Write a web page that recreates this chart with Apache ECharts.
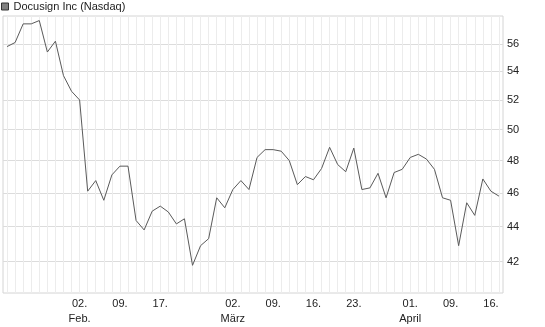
<!DOCTYPE html>
<html>
<head>
<meta charset="utf-8">
<script src="https://cdn.jsdelivr.net/npm/echarts@6/dist/echarts.min.js"></script>
<style>
html,body{margin:0;padding:0;background:#fff;}
#chart{width:545px;height:327px;}
</style>
</head>
<body>
<div id="chart"></div>
<script>
const seriesName = 'Docusign Inc (Nasdaq)';
const categories = [
  '2026-01-20','2026-01-21','2026-01-22','2026-01-23','2026-01-26','2026-01-27','2026-01-28','2026-01-29','2026-01-30',
  '2026-02-02','2026-02-03','2026-02-04','2026-02-05','2026-02-06','2026-02-09','2026-02-10','2026-02-11','2026-02-12','2026-02-13',
  '2026-02-17','2026-02-18','2026-02-19','2026-02-20','2026-02-23','2026-02-24','2026-02-25','2026-02-26','2026-02-27',
  '2026-03-02','2026-03-03','2026-03-04','2026-03-05','2026-03-06','2026-03-09','2026-03-10','2026-03-11','2026-03-12','2026-03-13',
  '2026-03-16','2026-03-17','2026-03-18','2026-03-19','2026-03-20','2026-03-23','2026-03-24','2026-03-25','2026-03-26','2026-03-27',
  '2026-03-30','2026-03-31',
  '2026-04-01','2026-04-02','2026-04-06','2026-04-07','2026-04-08','2026-04-09','2026-04-10','2026-04-13','2026-04-14','2026-04-15',
  '2026-04-16','2026-04-17'
];
const prices = [
  55.8, 56.1, 57.5, 57.5, 57.75, 55.4, 56.2, 53.7, 52.6,
  52.0, 46.1, 46.75, 45.55, 47.1, 47.65, 47.65, 44.35, 43.8, 44.9,
  45.2, 44.85, 44.15, 44.45, 41.8, 42.9, 43.3, 45.7, 45.1,
  46.2, 46.75, 46.2, 48.2, 48.7, 48.7, 48.6, 48.0, 46.5, 47.0,
  46.8, 47.5, 48.85, 47.75, 47.3, 48.8, 46.2, 46.3, 47.2, 45.7,
  47.25, 47.45,
  48.2, 48.4, 48.1, 47.45, 45.7, 45.55, 42.9, 45.4, 44.65, 46.85,
  46.1, 45.8
];
const xTickDates = ['2026-02-02','2026-02-09','2026-02-17','2026-03-02','2026-03-09','2026-03-16','2026-03-23','2026-04-01','2026-04-09','2026-04-16'];
const xTickTexts = ['02.\nFeb.','09.','17.','02.\nMärz','09.','16.','23.','01.\nApril','09.','16.'];
const yTicks = [42, 44, 46, 48, 50, 52, 54, 56];
const yMin = 40.3, yMax = 58.1;

const chart = echarts.init(document.getElementById('chart'), null, {renderer: 'canvas'});
const font = 'Liberation Sans, Arial, sans-serif';
chart.setOption({
  animation: false,
  textStyle: {fontFamily: font},
  legend: {
    left: 1, top: 1, padding: 0,
    itemWidth: 7, itemHeight: 7,
    data: [{name: seriesName, icon: 'rect'}],
    itemStyle: {color: '#808080', borderColor: '#333', borderWidth: 1},
    textStyle: {fontSize: 11, color: '#222', fontFamily: font}
  },
  grid: {
    left: 3, right: 42, top: 16, bottom: 34,
    show: true, borderColor: '#d4d4d4', borderWidth: 1, backgroundColor: '#fff'
  },
  xAxis: {
    type: 'category',
    data: categories,
    boundaryGap: true,
    axisLine: {show: false},
    axisTick: {show: false},
    splitLine: {show: true, interval: 0, alignWithLabel: true, lineStyle: {color: '#ececec', width: 1}},
    axisLabel: {
      interval: (idx, val) => xTickDates.indexOf(val) >= 0,
      formatter: (val) => { const k = xTickDates.indexOf(val); return k >= 0 ? xTickTexts[k] : ''; },
      fontSize: 11, color: '#222', lineHeight: 15, margin: 3, fontFamily: font
    }
  },
  yAxis: {
    type: 'value',
    position: 'right',
    min: Math.log(yMin), max: Math.log(yMax),
    axisLine: {show: false},
    axisTick: {show: false, customValues: yTicks.map(Math.log)},
    splitLine: {show: true, lineStyle: {color: '#dcdcdc', width: 1}},
    axisLabel: {
      customValues: yTicks.map(Math.log),
      formatter: (v) => String(Math.round(Math.exp(v))),
      fontSize: 11, color: '#222', margin: 4, fontFamily: font
    }
  },
  series: [{
    name: seriesName,
    type: 'line',
    data: prices.map(Math.log),
    symbol: 'none',
    lineStyle: {color: '#5a5a5a', width: 1},
    itemStyle: {color: '#808080'}
  }]
});
</script>
</body>
</html>
